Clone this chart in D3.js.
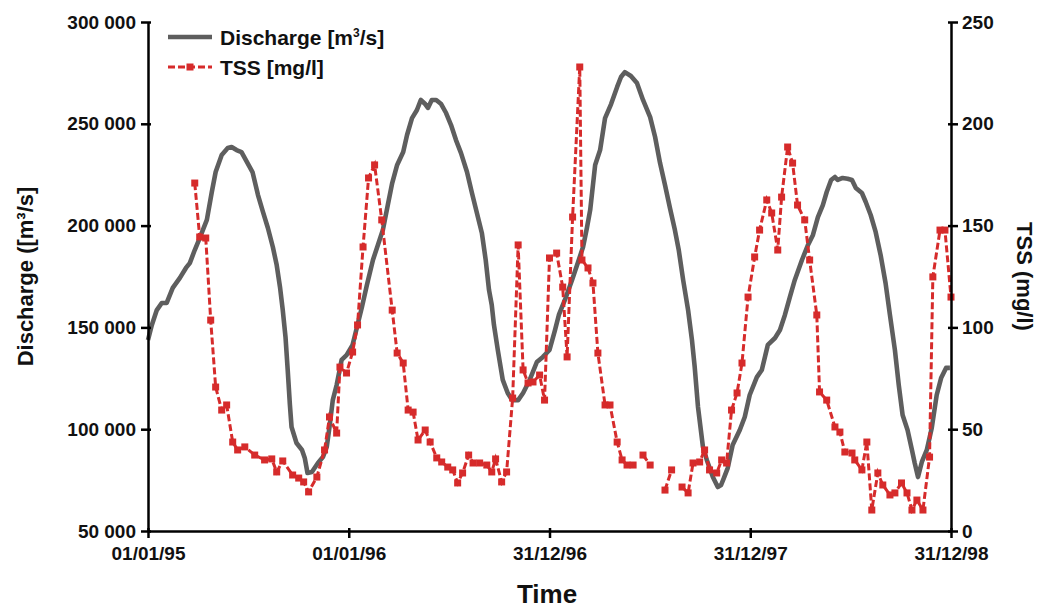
<!DOCTYPE html>
<html><head><meta charset="utf-8">
<script src="https://cdn.jsdelivr.net/npm/d3@7"></script>
<style>
body{margin:0;background:#fff;}
text{font-family:"Liberation Sans",Arial,sans-serif;font-weight:bold;fill:#111;}
</style></head><body>
<svg id="c" width="1043" height="609"></svg>
<script>
// Discharge [m3/s] series: [date, value]
const dischargeDates = ["1995-01-01","1995-01-08","1995-01-17","1995-01-26","1995-02-04","1995-02-15","1995-02-28","1995-03-11","1995-03-18","1995-03-27","1995-04-05","1995-04-18","1995-04-27","1995-05-04","1995-05-15","1995-05-26","1995-06-02","1995-06-11","1995-06-20","1995-07-01","1995-07-10","1995-07-20","1995-07-29","1995-08-07","1995-08-16","1995-08-23","1995-08-29","1995-09-03","1995-09-08","1995-09-12","1995-09-16","1995-09-19","1995-09-28","1995-10-08","1995-10-13","1995-10-18","1995-10-26","1995-11-06","1995-11-15","1995-11-22","1995-11-27","1995-12-03","1995-12-10","1995-12-19","1995-12-28","1996-01-08","1996-01-16","1996-01-25","1996-02-03","1996-02-14","1996-02-23","1996-03-03","1996-03-12","1996-03-20","1996-03-29","1996-04-09","1996-04-16","1996-04-25","1996-05-04","1996-05-11","1996-05-19","1996-05-24","1996-05-31","1996-06-08","1996-06-17","1996-06-26","1996-07-05","1996-07-14","1996-07-23","1996-08-03","1996-08-12","1996-08-21","1996-08-30","1996-09-06","1996-09-12","1996-09-17","1996-09-21","1996-09-28","1996-10-07","1996-10-16","1996-10-24","1996-11-04","1996-11-13","1996-11-25","1996-12-08","1996-12-19","1996-12-31","1997-01-10","1997-01-17","1997-01-28","1997-02-10","1997-02-21","1997-03-02","1997-03-09","1997-03-15","1997-03-24","1997-04-02","1997-04-11","1997-04-22","1997-05-03","1997-05-10","1997-05-17","1997-05-28","1997-06-08","1997-06-19","1997-07-02","1997-07-11","1997-07-20","1997-07-29","1997-08-07","1997-08-16","1997-08-23","1997-08-31","1997-09-09","1997-09-16","1997-09-21","1997-09-27","1997-10-06","1997-10-13","1997-10-24","1997-11-02","1997-11-08","1997-11-13","1997-11-20","1997-11-29","1997-12-12","1997-12-21","1997-12-30","1998-01-12","1998-01-21","1998-02-01","1998-02-14","1998-02-23","1998-03-04","1998-03-13","1998-03-22","1998-04-04","1998-04-15","1998-04-24","1998-05-03","1998-05-12","1998-05-19","1998-05-27","1998-06-03","1998-06-08","1998-06-17","1998-06-26","1998-07-04","1998-07-11","1998-07-22","1998-07-29","1998-08-07","1998-08-16","1998-08-25","1998-09-03","1998-09-11","1998-09-20","1998-09-27","1998-10-04","1998-10-13","1998-10-21","1998-10-26","1998-11-01","1998-11-08","1998-11-17","1998-11-26","1998-12-05","1998-12-13","1998-12-22","1998-12-29"];
const dischargeValues = [143800,151200,158500,162000,162000,169400,174300,179200,181600,188000,193900,202800,216500,226300,234700,238100,238600,237100,236100,230700,226300,215000,206700,198800,189500,180600,169800,158500,145300,129100,111900,101100,93200,89800,85900,78500,79000,83400,86300,91300,101100,114300,121700,134000,136400,141400,150200,160000,170800,183100,190500,197800,210100,220900,229800,236100,244500,252800,256800,261700,259700,257800,261700,261700,259700,255300,249400,242000,235700,226300,216000,206200,196400,183100,168400,161000,151200,138900,124200,117800,114300,114300,117800,124200,133000,135500,138900,148700,156100,163500,173300,182100,189500,198800,207700,229800,237100,252800,259700,268100,273000,275400,273500,270000,261700,253300,243500,230700,219900,208600,197800,188000,173300,158500,143800,130500,110900,91300,84900,76500,71600,72600,76000,80900,92200,99600,106000,116800,125600,129100,141400,144800,148700,156100,164900,173300,183100,190500,195400,204200,210100,216500,222400,223900,222400,223400,223000,222400,218500,216000,211600,205200,196900,185600,171800,156100,138900,121700,107000,99600,89800,83400,76500,83900,89800,100600,116800,125100,130100,130100];

// TSS [mg/l] series: null marks a gap in the record
const tssDates = ["1995-03-27","1995-04-05","1995-04-16","1995-04-25","1995-05-04","1995-05-15","1995-05-24","1995-06-04","1995-06-13","1995-06-26","1995-07-14","1995-08-01","1995-08-14","1995-08-23","1995-09-03","1995-09-21","1995-10-02","1995-10-11","1995-10-20","1995-11-04","1995-11-18","1995-11-27","1995-12-10","1995-12-16","1995-12-28","1996-01-08","1996-01-17","1996-01-27","1996-02-06","1996-02-17","1996-03-01","1996-03-20","1996-03-29","1996-04-09","1996-04-18","1996-04-27","1996-05-06","1996-05-19","1996-05-28","1996-06-09","1996-06-18","1996-06-29","1996-07-08","1996-07-17","1996-07-26","1996-08-06","1996-08-14","1996-08-26","1996-09-08","1996-09-17","1996-09-24","1996-10-05","1996-10-14","1996-10-25","1996-11-04","1996-11-13","1996-11-22","1996-12-01","1996-12-13","1996-12-22","1996-12-31","1997-01-13","1997-01-24","1997-02-01","1997-02-11","1997-02-24","1997-02-28","1997-03-11","1997-03-20","1997-03-29","1997-04-11","1997-04-20","1997-05-03","1997-05-12","1997-05-21","1997-06-01","1997-06-10","1997-06-19","1997-07-02","1997-07-15","1997-07-29","1997-08-10","1997-08-20","1997-08-29","1997-09-09","1997-09-18","1997-09-30","1997-10-09","1997-10-18","1997-10-31","1997-11-09","1997-11-18","1997-11-27","1997-12-07","1997-12-16","1997-12-27","1998-01-08","1998-01-17","1998-01-30","1998-02-08","1998-02-19","1998-02-26","1998-03-09","1998-03-18","1998-03-27","1998-04-09","1998-04-18","1998-05-01","1998-05-06","1998-05-19","1998-06-03","1998-06-12","1998-06-21","1998-07-04","1998-07-09","1998-07-22","1998-07-31","1998-08-09","1998-08-20","1998-08-29","1998-09-11","1998-09-20","1998-10-02","1998-10-12","1998-10-21","1998-10-30","1998-11-10","1998-11-22","1998-11-28","1998-12-11","1998-12-20","1998-12-31"];
const tssValues = [170.9,144.4,143.9,103.6,70.7,59.4,61.9,43.7,39.8,41.3,37.3,34.9,35.4,29.0,34.4,27.5,26.0,24.1,19.2,26.5,39.8,56.0,48.1,80.5,77.6,87.9,101.2,139.5,173.4,179.8,152.8,108.5,87.4,82.5,59.4,58.4,44.7,49.6,43.7,35.9,33.9,31.4,30.0,23.6,28.5,37.3,33.4,33.4,32.4,29.0,35.4,24.1,29.0,65.3,140.5,79.1,72.7,73.2,76.6,64.3,134.1,136.5,119.8,85.5,154.2,227.9,133.1,129.2,121.8,87.4,61.9,61.9,43.7,34.9,32.4,32.4,null,37.3,32.4,null,20.1,30.0,null,21.6,18.7,33.4,33.9,39.8,30.0,28.5,34.9,33.4,59.4,67.8,82.5,114.9,134.6,147.8,162.6,156.2,138.0,164.0,188.6,180.7,160.1,152.8,133.1,106.1,68.3,64.3,51.1,48.6,38.8,38.3,34.9,30.0,43.7,10.3,28.5,22.6,17.7,18.7,23.6,18.7,10.3,15.2,10.3,36.3,124.8,147.8,147.8,114.9];

// Axis ticks
const xTickDates = ["1995-01-01","1996-01-01","1996-12-31","1997-12-31","1998-12-31"];
const xTickLabels = ["01/01/95","01/01/96","31/12/96","31/12/97","31/12/98"];
const leftTicks = [50000,100000,150000,200000,250000,300000];
const rightTicks = [0,50,100,150,200,250];

const parse = d3.timeParse("%Y-%m-%d");
const discharge = dischargeDates.map((d,i)=>({date:parse(d), v:dischargeValues[i]}));
const tss = tssDates.map((d,i)=>({date:parse(d), v:tssValues[i]}));

const svg = d3.select("#c");
const L=148, R=951, T=22, B=531;
const x = d3.scaleTime().domain([parse("1995-01-01"), parse("1998-12-31")]).range([L,R]);
const yL = d3.scaleLinear().domain([50000,300000]).range([B,T]);
const yR = d3.scaleLinear().domain([0,250]).range([B,T]);

const GRAY="#5e5e5e", RED="#d62b2b";
const fmt = v => d3.format(",")(v).replace(/,/g," ");

// Discharge line
svg.append("path").datum(discharge)
  .attr("fill","none").attr("stroke",GRAY).attr("stroke-width",4.6).attr("stroke-linejoin","round")
  .attr("d", d3.line().x(d=>x(d.date)).y(d=>yL(d.v)));

// TSS dashed line + squares
svg.append("path").datum(tss)
  .attr("fill","none").attr("stroke",RED).attr("stroke-width",3).attr("stroke-dasharray","7,3")
  .attr("d", d3.line().defined(d=>d.v!==null).x(d=>x(d.date)).y(d=>yR(d.v)));
svg.append("g").selectAll("rect").data(tss.filter(d=>d.v!==null)).join("rect")
  .attr("x",d=>x(d.date)-3.5).attr("y",d=>yR(d.v)-3.5).attr("width",7).attr("height",7).attr("fill",RED);

// Axes
const axStyle = g => { g.select(".domain").attr("stroke","#000").attr("stroke-width",2.5);
  g.selectAll(".tick line").attr("stroke","#000").attr("stroke-width",2.5);
  g.selectAll("text").attr("font-size",19).attr("font-family","Liberation Sans, Arial").attr("font-weight","bold").attr("fill","#111"); };

const gx = svg.append("g").attr("transform",`translate(0,${B})`)
  .call(d3.axisBottom(x).tickValues(xTickDates.map(parse)).tickFormat((d,i)=>xTickLabels[i]).tickSize(7).tickSizeOuter(0).tickPadding(9));
axStyle(gx);
gx.selectAll(".tick line").attr("y1",-3);

const gl = svg.append("g").attr("transform",`translate(${L},0)`)
  .call(d3.axisLeft(yL).tickValues(leftTicks).tickFormat(fmt).tickSize(7).tickSizeOuter(0).tickPadding(5));
axStyle(gl);
gl.selectAll(".tick line").attr("x1",3);

const gr = svg.append("g").attr("transform",`translate(${R},0)`)
  .call(d3.axisRight(yR).tickValues(rightTicks).tickSize(7).tickSizeOuter(0).tickPadding(4));
axStyle(gr);
gr.selectAll(".tick line").attr("x1",-3);

// Axis titles
svg.append("text").attr("x",547).attr("y",603).attr("text-anchor","middle").attr("font-size",26).text("Time");
svg.append("text").attr("transform",`translate(33,${(T+B)/2}) rotate(-90)`).attr("text-anchor","middle").attr("font-size",22).text("Discharge ([m³/s]");
svg.append("text").attr("transform",`translate(1017,${(T+B)/2}) rotate(90)`).attr("text-anchor","middle").attr("font-size",22).text("TSS (mg/l)");

// Legend
const lg = svg.append("g");
lg.append("line").attr("x1",168).attr("x2",212).attr("y1",37).attr("y2",37).attr("stroke",GRAY).attr("stroke-width",4.6);
lg.append("text").attr("x",220).attr("y",45).attr("font-size",21).html('Discharge [m<tspan dy="-8" font-size="12">3</tspan><tspan dy="8">/s]</tspan>');
lg.append("line").attr("x1",168).attr("x2",212).attr("y1",67).attr("y2",67).attr("stroke",RED).attr("stroke-width",3).attr("stroke-dasharray","7,3");
lg.append("rect").attr("x",186.5).attr("y",63.5).attr("width",7).attr("height",7).attr("fill",RED);
lg.append("text").attr("x",220).attr("y",75).attr("font-size",21).text("TSS [mg/l]");
</script></body></html>
